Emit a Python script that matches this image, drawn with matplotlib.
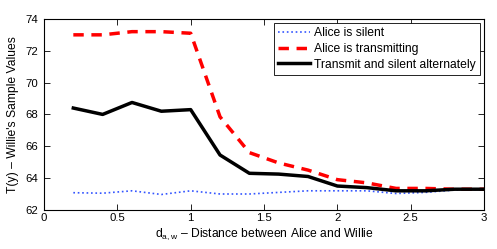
import numpy as np
import matplotlib
matplotlib.use("Agg")
import matplotlib.pyplot as plt

plt.rcParams['font.family'] = ['Liberation Sans', 'DejaVu Sans']
plt.rcParams['mathtext.fontset'] = 'custom'
plt.rcParams['mathtext.rm'] = 'Liberation Sans'
plt.rcParams['mathtext.it'] = 'Liberation Sans'

'''data read off the reference'''
dist = [0.2, 0.4, 0.6, 0.8, 1.0, 1.2, 1.4, 1.6, 1.8, 2.0, 2.2, 2.4, 2.6, 2.8, 3.0]
silent = [63.08, 63.05, 63.2, 62.97, 63.2, 63.0, 63.0, 63.1, 63.2, 63.2, 63.2, 63.03, 63.1, 63.25, 63.3]
transmitting = [73.0, 73.0, 73.2, 73.2, 73.1, 67.85, 65.6, 64.95, 64.5, 63.9, 63.7, 63.35, 63.35, 63.3, 63.3]
alternate = [68.4, 68.0, 68.75, 68.2, 68.3, 65.45, 64.3, 64.25, 64.1, 63.5, 63.4, 63.2, 63.2, 63.3, 63.3]

fig = plt.figure(figsize=(4.97, 2.49), dpi=100)
ax = fig.add_axes([0.0885, 0.157, 0.8855, 0.767])

ax.plot(dist, silent, ':', color='#3355ff', lw=1.2, label='Alice is silent')
ax.plot(dist, transmitting, '--', color='red', lw=2.5, dashes=(3, 2.2), label='Alice is transmitting')
ax.plot(dist, alternate, '-', color='black', lw=2.5, label='Transmit and silent alternately')

ax.set_xlim(0, 3)
ax.set_ylim(62, 74)
ax.set_xticks([0, 0.5, 1, 1.5, 2, 2.5, 3])
ax.set_xticklabels(['0', '0.5', '1', '1.5', '2', '2.5', '3'])
ax.set_yticks(np.arange(62, 75, 2))
ax.tick_params(direction='in', top=True, right=True, labelsize=8.2, length=4, width=0.6)
ax.tick_params(axis='x', pad=2.5)
ax.tick_params(axis='y', pad=4)
for s in ax.spines.values():
    s.set_linewidth(0.8)

ax.set_xlabel(r'd$_{\mathrm{a,w}}$ – Distance between Alice and Willie', fontsize=8.7, labelpad=2)
ax.set_ylabel("T(y) – Willie's Sample Values", fontsize=8.7, labelpad=5)

leg = ax.legend(loc='upper right', fontsize=8.7, frameon=True, fancybox=False,
                edgecolor='black', framealpha=1, borderpad=0.35, labelspacing=0.3,
                handlelength=2.6, handletextpad=0.35, borderaxespad=0.35)
leg.get_frame().set_linewidth(0.6)

fig.savefig('out.png', dpi=100)
